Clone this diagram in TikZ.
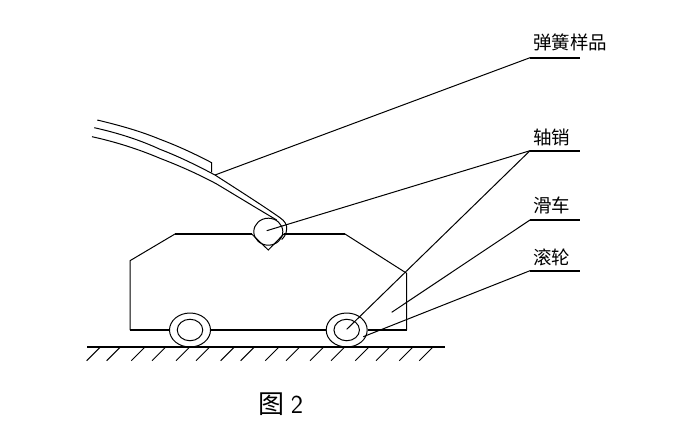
\documentclass[tikz,border=0pt]{standalone}
\usepackage{fontspec}
\newfontfamily\cjk{Noto Sans CJK SC}
\usetikzlibrary{shapes.geometric}
\begin{document}
\begin{tikzpicture}[x=1pt,y=-1pt,
thin line/.style={line width=1pt},
bold line/.style={line width=1.6pt},
wheel/.style={draw, shape=ellipse, thin line, inner sep=0pt, minimum width=41pt, minimum height=34pt},
hub/.style={draw, shape=ellipse, thin line, inner sep=0pt, minimum width=25.5pt, minimum height=21.5pt},
pin/.style={draw, shape=ellipse, thin line, inner sep=0pt, minimum width=29pt, minimum height=27pt},
label/.style={font=\cjk\fontsize{18.5}{18.5}\selectfont, inner sep=0pt, anchor=base west}]
\useasboundingbox (0,0) rectangle (691,421);
\node[label] (sample) at (533,49) {弹簧样品};
\node[label] (axle)   at (533,144) {轴销};
\node[label] (cart)   at (533,212) {滑车};
\node[label] (roller) at (533,264) {滚轮};
\node[font=\cjk\fontsize{26}{26}\selectfont, inner sep=0pt] (caption) at (281,404) {图 \sffamily 2};
%
\coordinate (s1) at (530,57.7);
\coordinate (s2) at (580,57.7);
\coordinate (a1) at (530,150.7);
\coordinate (a2) at (580,150.7);
\coordinate (c1) at (530,220);
\coordinate (c2) at (580,220);
\coordinate (r1) at (530,270.7);
\coordinate (r2) at (580,270.7);
\draw[bold line] (s1) -- (s2);
\draw[bold line] (a1) -- (a2);
\draw[bold line] (c1) -- (c2);
\draw[bold line] (r1) -- (r2);
%
\node[wheel] (w1) at (190,330) {};
\node[hub]   (h1) at (190,330) {};
\node[wheel] (w2) at (346.7,330) {};
\node[hub]   (h2) at (346.7,330) {};
\node[pin]   (p)  at (268.3,231.7) {};
%
\coordinate (bl) at (130,330);
\coordinate (br) at (406.7,330);
\coordinate (tl) at (175,234);
\coordinate (tr) at (345,234);
\coordinate (vl) at (251.7,234);
\coordinate (vr) at (283.8,234);
\coordinate (v)  at (268.3,250);
\draw[thin line] (bl) -- (130,260.7) -- (tl);
\draw[thin line] (tr) -- (406.7,273.3) -- (br);
\draw[bold line] (tl) -- (vl);
\draw[bold line] (vr) -- (tr);
\draw[thin line] (vl) -- (v) -- (vr);
\draw[bold line] (bl) -- (w1.west);
\draw[bold line] (w1.east) -- (w2.west);
\draw[bold line] (w2.east) -- (br);
%
\coordinate (g1) at (87.3,346.7);
\coordinate (g2) at (445,346.7);
\draw[bold line] (g1) -- (g2);
\foreach \x in {100.7,120.7,145.3,166,190,210,234.7,254.7,279.3,300,324,345,369.3,390,413.3,433.3}
  \draw[thin line] (\x,346.7) -- ++(-14,14);
%
\draw[thin line] (97.3,120) .. controls (120,125.5) and (140,131) .. (160,139.3)
  .. controls (178,146) and (195,154) .. (211.7,162.7) -- (211.7,172.3);
\draw[thin line] (94.3,127.7) .. controls (118,133) and (140,140) .. (160,149.3)
  .. controls (180,157) and (198,166) .. (215,175)
  .. controls (232,186) and (262,205) .. (280,217.7)
  .. controls (285,221) and (287,225) .. (286.7,229)
  .. controls (286.5,235) and (283,238) .. (281.7,239.5);
\draw[thin line] (92,136.7) .. controls (116,142) and (138,149) .. (160,158.3)
  .. controls (180,166) and (198,174) .. (216.7,184)
  .. controls (235,195) and (258,209) .. (276.7,220);
%
\coordinate (sample end) at (215,175);
\coordinate (pin end) at (266.7,230.7);
\coordinate (hub end) at (346.7,329.3);
\coordinate (cart end) at (391.7,312.3);
\coordinate (roller end) at (363.3,336.7);
\draw[thin line] (s1) -- (sample end);
\draw[thin line] (a1) -- (pin end);
\draw[thin line] (a1) -- (hub end);
\draw[thin line] (c1) -- (cart end);
\draw[thin line] (r1) -- (roller end);
\end{tikzpicture}
\end{document}
